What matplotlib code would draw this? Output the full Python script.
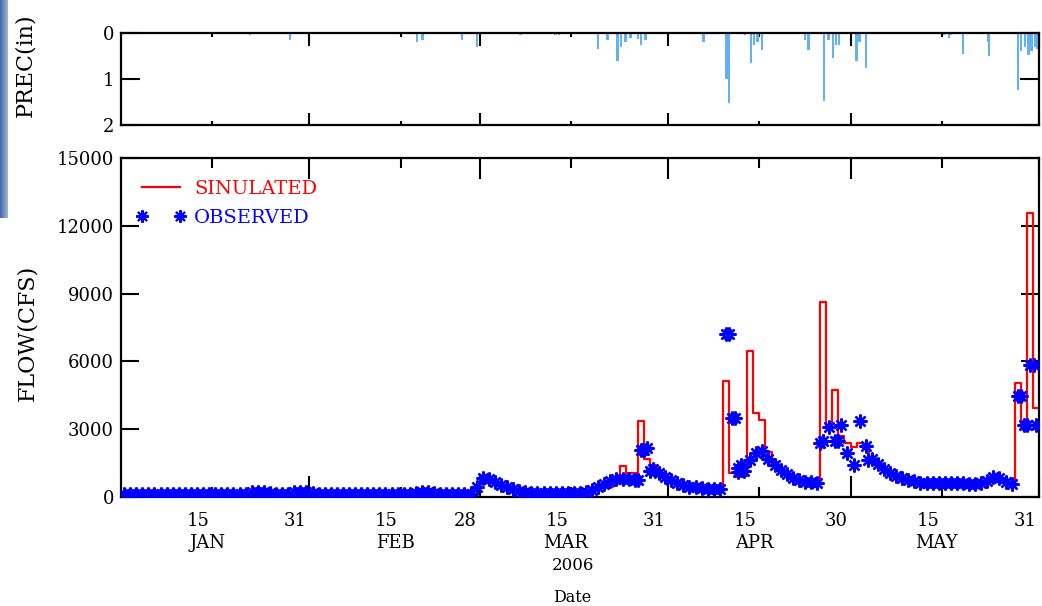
import numpy as np
import matplotlib
matplotlib.use("Agg")
import matplotlib.pyplot as plt
from matplotlib.lines import Line2D
from matplotlib.transforms import ScaledTranslation, blended_transform_factory

# ---------------------------------------------------------------------------
# Data: daily values, index 0 .. 150  (Jan 1 .. May 31, 2006)
# ---------------------------------------------------------------------------
sim_flow = [
    110, 110, 110, 110, 110, 110, 110, 110, 110, 110,
    110, 110, 110, 110, 110, 110, 110, 110, 110, 110,
    110, 150, 180, 180, 160, 130, 120, 120, 150, 180,
    170, 140, 120, 110, 110, 110, 110, 110, 110, 110,
    110, 110, 110, 110, 110, 110, 110, 120, 160, 190,
    180, 150, 130, 120, 120, 120, 120, 150, 400, 800,
    750, 660, 560, 450, 360, 280, 220, 180, 160, 160,
    160, 160, 160, 160, 160, 160, 180, 220, 300, 380,
    450, 880, 1370, 1060, 1060, 3360, 1700, 1400, 1200, 1000,
    850, 700, 580, 500, 450, 400, 370, 350, 330, 5150,
    1050, 900, 950, 6450, 3700, 3400, 2000, 1550, 1250, 1050,
    900, 780, 700, 660, 640, 8650, 3200, 4750, 2700, 2400,
    2200, 2400, 2150, 1750, 1450, 1250, 1080, 950, 850, 760,
    700, 640, 610, 600, 600, 600, 600, 600, 600, 600,
    600, 620, 700, 850, 800, 650, 550, 5050, 3100, 12550, 3950,
]

obs_flow = [
    120, 120, 120, 120, 120, 120, 120, 120, 120, 120,
    120, 120, 120, 120, 120, 120, 120, 120, 120, 120,
    130, 200, 220, 220, 190, 140, 130, 140, 200, 220,
    210, 160, 130, 120, 120, 120, 120, 120, 120, 120,
    120, 120, 120, 120, 120, 120, 120, 130, 180, 220,
    210, 160, 140, 130, 130, 130, 130, 150, 450, 820,
    780, 650, 540, 430, 340, 270, 210, 180, 160, 160,
    160, 160, 160, 160, 160, 170, 200, 300, 440, 580,
    700, 790, 800, 780, 760, 2100, 2150, 1250, 1050, 900,
    760, 620, 520, 460, 430, 400, 370, 350, 340, 7200,
    3500, 1300, 1150, 1650, 1950, 2050, 1700, 1400, 1180, 1000,
    860, 760, 680, 650, 630, 2480, 3100, 2480, 3180, 1950,
    1420, 3360, 2260, 1700, 1450, 1250, 1080, 950, 850, 760,
    700, 640, 620, 620, 620, 620, 620, 610, 600, 590,
    580, 600, 720, 880, 820, 660, 560, 4450, 3200, 5850, 3200,
]

# additional sub-daily gauge readings during storm events
obs_extra_day = [85.0, 86.0, 87.0, 100.0, 101.0, 101.5, 102.0, 115.0,
                 118.0, 122.9, 148.0, 149.0, 150.2]
obs_extra_flow = [740, 2100, 1150, 7200, 3500, 1100, 1400, 2400,
                  2480, 1640, 4450, 3200, 5850]

# precipitation (inches)
prec_day = [21.2, 27.8, 44.8, 48.7, 49.6, 56.1, 58.6, 65.7, 71.5, 72.0,
            78.5, 80.0, 81.7, 82.2, 83.0, 83.8, 85.0, 85.5, 86.3, 95.8,
            99.6, 100.0, 102.6, 103.6, 104.1, 104.7, 105.4, 112.5, 113.1, 115.6,
            116.4, 117.1, 117.6, 118.1, 121.0, 121.5, 122.5, 135.4, 136.2, 136.5,
            138.5, 142.6, 142.8, 147.5, 148.0, 148.7, 149.3, 149.8, 150.3, 150.7]
prec_in = [0.04, 0.15, 0.03, 0.2, 0.15, 0.15, 0.3, 0.05, 0.05, 0.05,
           0.35, 0.15, 0.6, 0.3, 0.2, 0.1, 0.12, 0.25, 0.15, 0.2,
           1.0, 1.52, 0.05, 0.66, 0.25, 0.2, 0.37, 0.15, 0.37, 1.48,
           0.15, 0.55, 0.25, 0.25, 0.6, 0.2, 0.77, 0.05, 0.1, 0.05,
           0.45, 0.2, 0.5, 1.24, 0.4, 0.3, 0.48, 0.4, 0.3, 0.35]

# calendar ticks (day of year)
month_end_days = [31, 59, 90, 120, 151]
month_end_labels = ["31", "28", "31", "30", "31"]
mid_month_days = [15, 46, 74, 105, 135]
mid_month_labels = ["15", "15", "15", "15", "15"]
month_names = ["JAN", "FEB", "MAR", "APR", "MAY"]

flow_ticks = [0, 3000, 6000, 9000, 12000, 15000]
prec_ticks = [0, 1, 2]

# ---------------------------------------------------------------------------
SERIF = "DejaVu Serif"
W, H = 1042, 606
fig = plt.figure(figsize=(W / 100, H / 100), dpi=100)

# decorative slide strip on the far left
ax_strip = fig.add_axes([0, 1 - 218 / H, 8 / W, 218 / H])
grad = np.linspace(0, 1, 64)[None, :]
ax_strip.imshow(grad, aspect="auto", cmap=matplotlib.colors.LinearSegmentedColormap.from_list(
    "strip", ["#3d66a3", "#9bb7dc"]))
ax_strip.set_axis_off()

L, R = 121, 1039
ax_p = fig.add_axes([L / W, 1 - 125 / H, (R - L) / W, 92 / H])
ax_f = fig.add_axes([L / W, 1 - 497 / H, (R - L) / W, 339 / H])

# ---- precipitation panel ----
ax_p.bar(prec_day, prec_in, width=0.4, color="#63b1f5", align="center", zorder=2)
ax_p.set_xlim(0, 151)
ax_p.set_ylim(2, 0)
ax_p.set_yticks(prec_ticks)
ax_p.set_yticklabels([str(v) for v in prec_ticks], fontfamily=SERIF, fontsize=13)
ax_p.set_xticks(month_end_days)
ax_p.set_xticks(mid_month_days, minor=True)
ax_p.tick_params(axis="x", which="major", direction="in", length=9, width=1.5,
                 top=True, bottom=True, labelbottom=False)
ax_p.tick_params(axis="x", which="minor", direction="in", length=3, width=1.5,
                 top=True, bottom=True, labelbottom=False)
ax_p.tick_params(axis="y", direction="in", length=14, width=1.5, left=True,
                 right=True, pad=5)
for s in ax_p.spines.values():
    s.set_linewidth(1.6)

# ---- flow panel ----
x_step = np.arange(len(sim_flow) + 1)
ax_f.step(x_step, sim_flow + [sim_flow[-1]], where="post", color="#ff0000",
          lw=1.6, zorder=2)

obs_x = np.concatenate([np.arange(len(obs_flow)) + 0.5, obs_extra_day])
obs_y = np.concatenate([obs_flow, obs_extra_flow])
ax_f.plot(obs_x, obs_y, ls="none", marker=(8, 2, 0), ms=10, mew=1.7,
          mec="#0000ff", color="#0000ff", zorder=3)

ax_f.set_xlim(0, 151)
ax_f.set_ylim(0, 15000)
ax_f.set_yticks(flow_ticks)
ax_f.set_yticklabels([str(v) for v in flow_ticks], fontfamily=SERIF, fontsize=13)
ax_f.set_xticks(month_end_days)
ax_f.set_xticklabels(month_end_labels, fontfamily=SERIF, fontsize=13)
ax_f.set_xticks(mid_month_days, minor=True)
ax_f.set_xticklabels(mid_month_labels, minor=True, fontfamily=SERIF, fontsize=13)
ax_f.tick_params(axis="x", which="major", direction="in", length=15, width=1.5,
                 top=True, pad=11)
ax_f.tick_params(axis="x", which="minor", direction="in", length=7, width=1.5,
                 top=True, pad=11)
ax_f.tick_params(axis="y", direction="in", length=13, width=1.5, left=True,
                 right=True, pad=5)
for s in ax_f.spines.values():
    s.set_linewidth(1.6)

shift = ScaledTranslation(-0.14, 0, fig.dpi_scale_trans)
for lab in ax_f.get_xticklabels(which="both"):
    lab.set_transform(lab.get_transform() + shift)

# month names below the mid-month labels
tr = blended_transform_factory(ax_f.transData, ax_f.transAxes) + \
    ScaledTranslation(-0.05, 0, fig.dpi_scale_trans)
for d, name in zip(mid_month_days, month_names):
    ax_f.text(d, (497 - 543) / 339, name, transform=tr, ha="center", va="center",
              fontfamily=SERIF, fontsize=13)

fig.text(573 / W, 1 - 565 / H, "2006", ha="center", va="center",
         fontfamily=SERIF, fontsize=12)
fig.text(572 / W, 1 - 598 / H, "Date", ha="center", va="center",
         fontfamily=SERIF, fontsize=11.5)

fig.text(27 / W, 1 - 333 / H, "FLOW(CFS)", rotation=90, ha="center", va="center",
         fontfamily=SERIF, fontsize=16)
fig.text(25 / W, 1 - 65 / H, "PREC(in)", rotation=90, ha="center", va="center",
         fontfamily=SERIF, fontsize=16)

# legend
h_sim = Line2D([], [], color="#ff0000", lw=1.6)
h_obs = Line2D([], [], ls="none", marker=(8, 2, 0), ms=9, mew=1.5,
               mec="#0000ff", color="#0000ff")
leg = ax_f.legend([h_sim, h_obs], ["SINULATED", "OBSERVED"], loc="upper left",
                  bbox_to_anchor=(0.016, 0.935), frameon=False,
                  prop={"family": SERIF, "size": 14}, handlelength=2.6,
                  handletextpad=0.4, numpoints=2, borderpad=0, borderaxespad=0,
                  labelspacing=0.55)
for t, c in zip(leg.get_texts(), ["#ff0000", "#0000ff"]):
    t.set_color(c)

fig.savefig("out.png", dpi=100)
